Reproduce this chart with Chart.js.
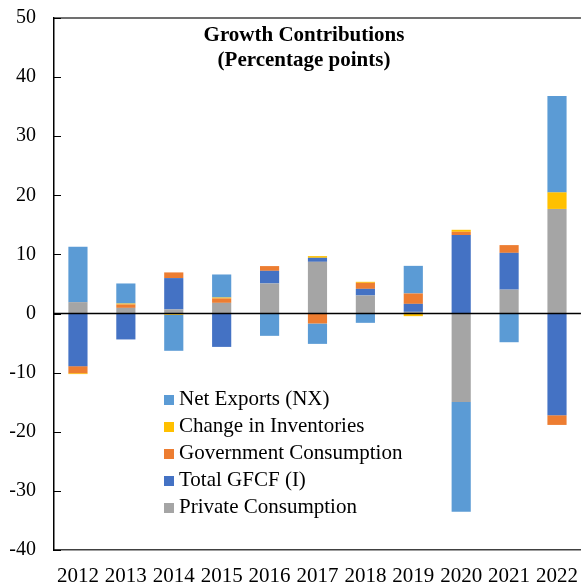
<!DOCTYPE html>
<html>
<head>
<meta charset="utf-8">
<script src="https://cdn.jsdelivr.net/npm/chart.js@4/dist/chart.umd.min.js"></script>
<style>
  body { margin: 0; background: #fff; overflow: hidden; }
  #wrap { position: relative; width: 584px; height: 586px; }
  #title {
    position: absolute; left: 154px; top: 22px; width: 300px;
    text-align: center; font: bold 21px "Liberation Serif", serif; line-height: 25px; color: #000;
  }
  #legend {
    position: absolute; left: 164px; top: 385px;
    font: 21px "Liberation Serif", serif; color: #000;
  }
  #legend div { height: 27px; line-height: 27px; white-space: nowrap; }
  #legend span { display: inline-block; width: 10px; height: 10px; margin-right: 5px; vertical-align: 0px; }
</style>
</head>
<body>
<div id="wrap">
  <canvas id="growthChart"></canvas>
  <div id="title">Growth Contributions<br>(Percentage points)</div>
  <div id="legend"></div>
</div>
<script>
const years = ['2012', '2013', '2014', '2015', '2016', '2017', '2018', '2019', '2020', '2021', '2022'];
const privateConsumption = [1.93, 0.96, 0.7, 1.81, 5.09, 8.75, 3.06, 0.29, -14.95, 4.05, 17.7];
const totalGfcf = [-8.9, -4.38, 5.3, -5.64, 2.14, 0.68, 1.12, 1.35, 13.27, 6.22, -17.2];
const govConsumption = [-1.19, 0.58, 0.96, 0.75, 0.8, -1.68, 1.02, 1.76, 0.56, 1.31, -1.64];
const inventories = [-0.15, 0.15, -0.2, 0.15, 0, 0.29, 0.17, -0.44, 0.34, 0, 2.8];
const netExports = [9.36, 3.4, -6.1, 3.9, -3.77, -3.45, -1.57, 4.67, -18.6, -4.85, 16.3];
const yTicks = [50, 40, 30, 20, 10, 0, -10, -20, -30, -40];

// order of stacking, bottom first
const series = [
  { label: 'Private Consumption', data: privateConsumption, color: '#A5A5A5' },
  { label: 'Total GFCF (I)', data: totalGfcf, color: '#4472C4' },
  { label: 'Government Consumption', data: govConsumption, color: '#ED7D31' },
  { label: 'Change in Inventories', data: inventories, color: '#FFC000' },
  { label: 'Net Exports (NX)', data: netExports, color: '#5B9BD5' },
];

const legendBox = document.getElementById('legend');
series.slice().reverse().forEach((s) => {
  const row = document.createElement('div');
  row.innerHTML = `<span style="background:${s.color}"></span>${s.label}`;
  legendBox.appendChild(row);
});

// zero line over the bars, top frame line and inward y ticks
const axisExtras = {
  id: 'axisExtras',
  afterDatasetsDraw(chart) {
    const { ctx, chartArea } = chart;
    const y = chart.scales.y;
    ctx.save();
    ctx.strokeStyle = '#000';
    ctx.lineWidth = 1.5;
    const zero = y.getPixelForValue(0);
    ctx.beginPath();
    ctx.moveTo(chartArea.left, zero);
    ctx.lineTo(chartArea.right, zero);
    ctx.stroke();

    ctx.strokeStyle = '#404040';
    ctx.beginPath();
    ctx.moveTo(chartArea.left, chartArea.top);
    ctx.lineTo(chartArea.right, chartArea.top);
    ctx.stroke();

    ctx.strokeStyle = '#000';
    ctx.lineWidth = 1;
    yTicks.forEach((v) => {
      const py = Math.round(y.getPixelForValue(v)) + 0.5;
      ctx.beginPath();
      ctx.moveTo(chartArea.left, py);
      ctx.lineTo(chartArea.left + 7, py);
      ctx.stroke();
    });
    ctx.restore();
  },
};

new Chart(document.getElementById('growthChart'), {
  type: 'bar',
  data: {
    labels: years,
    datasets: series.map((s) => ({
      label: s.label,
      data: s.data,
      backgroundColor: s.color,
      borderWidth: 0,
      barPercentage: 0.8,
      categoryPercentage: 0.5,
    })),
  },
  options: {
    responsive: true,
    maintainAspectRatio: false,
    animation: false,
    layout: { padding: { top: 18, right: 0, bottom: 0, left: 0 } },
    plugins: {
      legend: { display: false },
      tooltip: { enabled: false },
    },
    scales: {
      x: {
        stacked: true,
        grid: { display: false },
        border: { display: true, color: '#404040', width: 1.5 },
        ticks: {
          color: '#000',
          font: { family: 'Liberation Serif', size: 21 },
          padding: 6,
          maxRotation: 0,
          autoSkip: false,
        },
        afterFit(scale) { scale.height = 36; },
      },
      y: {
        stacked: true,
        min: -40,
        max: 50,
        grid: { display: false },
        border: { display: true, color: '#000', width: 1.5 },
        ticks: {
          stepSize: 10,
          color: '#000',
          font: { family: 'Liberation Serif', size: 20 },
          padding: 10,
        },
        afterFit(scale) {
          scale.width = 54;
          scale.paddingTop = 0;
          scale.paddingBottom = 0;
        },
      },
    },
  },
  plugins: [axisExtras],
});
</script>
</body>
</html>
